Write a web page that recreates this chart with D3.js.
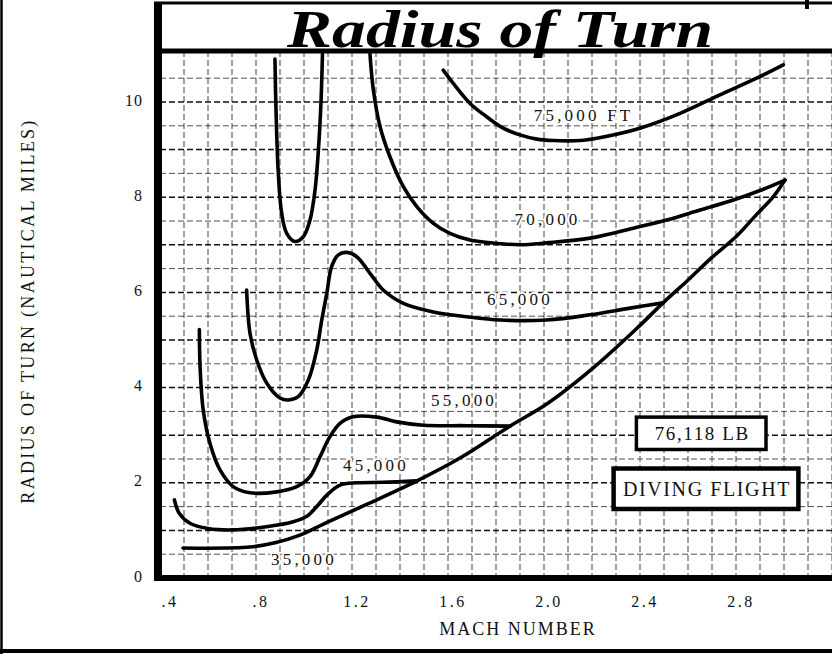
<!DOCTYPE html>
<html>
<head>
<meta charset="utf-8">
<script src="https://cdn.jsdelivr.net/npm/d3@7"></script>
<style>
  html, body { margin: 0; padding: 0; background: #fff; }
  #chart { width: 832px; height: 654px; }
</style>
</head>
<body>
<div id="chart"></div>
<script>
// Axis ticks
const machTicks = [0.4, 0.8, 1.2, 1.6, 2.0, 2.4, 2.8];
const machTickLabels = ['.4', '.8', '1.2', '1.6', '2.0', '2.4', '2.8'];
const radiusTicks = [0, 2, 4, 6, 8, 10];

// Curves: [mach, radius (n.mi.)]
const alt35000 = [[0.496, 0.63], [0.775, 0.65], [0.879, 0.74], [0.983, 0.9], [1.096, 1.17], [1.263, 1.55],
  [1.471, 2.04], [1.65, 2.52], [1.858, 3.19], [2.013, 3.66], [2.204, 4.41], [2.388, 5.25], [2.496, 5.78],
  [2.596, 6.24], [2.692, 6.7], [2.804, 7.19], [2.888, 7.65], [2.954, 8.0], [3.004, 8.36]];
const alt45000 = [[0.46, 1.64], [0.48, 1.36], [0.525, 1.15], [0.6, 1.04], [0.7, 1.01], [0.85, 1.08],
  [0.955, 1.18], [1.01, 1.29], [1.053, 1.5], [1.095, 1.74], [1.15, 1.95], [1.22, 2.0], [1.33, 2.01],
  [1.471, 2.04]];
const alt55000 = [[0.564, 5.22], [0.567, 4.44], [0.58, 3.53], [0.608, 2.83], [0.65, 2.27], [0.705, 1.92],
  [0.775, 1.79], [0.886, 1.81], [0.97, 1.92], [1.025, 2.13], [1.067, 2.55], [1.108, 2.97], [1.15, 3.25],
  [1.205, 3.39], [1.303, 3.38], [1.386, 3.28], [1.497, 3.21], [1.678, 3.2], [1.858, 3.19]];
const alt65000 = [[0.761, 6.05], [0.775, 5.14], [0.803, 4.58], [0.845, 4.09], [0.9, 3.78], [0.935, 3.74],
  [0.976, 3.81], [1.018, 4.16], [1.053, 4.79], [1.074, 5.42], [1.095, 5.98], [1.115, 6.54], [1.143, 6.79],
  [1.178, 6.84], [1.22, 6.75], [1.275, 6.4], [1.33, 6.05], [1.414, 5.77], [1.539, 5.59], [1.678, 5.49],
  [1.817, 5.42], [2.011, 5.42], [2.192, 5.53], [2.358, 5.67], [2.496, 5.78]];
const alt70000Subsonic = [[0.879, 10.9], [0.883, 9.9], [0.893, 8.5], [0.907, 7.66], [0.928, 7.24],
  [0.962, 7.07], [0.997, 7.17], [1.025, 7.52], [1.046, 8.15], [1.06, 8.99], [1.07, 9.9], [1.077, 11.0]];
const alt70000 = [[1.275, 11.0], [1.289, 10.25], [1.317, 9.48], [1.358, 8.85], [1.414, 8.22], [1.47, 7.8],
  [1.539, 7.45], [1.608, 7.24], [1.692, 7.1], [1.803, 7.03], [1.9, 7.0], [2.011, 7.04], [2.192, 7.14],
  [2.372, 7.35], [2.511, 7.52], [2.65, 7.73], [2.789, 7.94], [2.9, 8.14], [3.004, 8.36]];
const alt75000 = [[1.58, 10.67], [1.622, 10.39], [1.692, 9.97], [1.761, 9.69], [1.83, 9.45], [1.9, 9.31],
  [1.97, 9.22], [2.039, 9.19], [2.15, 9.19], [2.22, 9.24], [2.4, 9.45], [2.567, 9.76], [2.733, 10.15],
  [2.886, 10.5], [2.997, 10.78]];

const curves = [alt35000, alt45000, alt55000, alt65000, alt70000Subsonic, alt70000, alt75000];
const curveLabels = ['35,000', '45,000', '55,000', '65,000', '70,000', '75,000 FT'];

const W = 832, H = 654;
const plot = { left: 160, right: 832, top: 51, bottom: 578 };
const serif = "'Liberation Serif', 'Times New Roman', serif";

const x = d3.scaleLinear().domain([0.4, 3.2]).range([plot.left, plot.right]);
const y = d3.scaleLinear().domain([0, 10]).range([plot.bottom, 102]);

const svg = d3.select('#chart').append('svg')
  .attr('width', W)
  .attr('height', H)
  .style('font-family', serif);

svg.append('rect').attr('width', W).attr('height', H).attr('fill', '#fff');

// Graph paper grid
const grid = svg.append('g').attr('stroke-dasharray', '6,3');
d3.range(5, 33).map(i => i / 10).forEach(m => {
  grid.append('line')
    .attr('x1', x(m)).attr('x2', x(m))
    .attr('y1', plot.top).attr('y2', plot.bottom)
    .attr('stroke', '#222')
    .attr('stroke-width', 0.85);
});
d3.range(1, 22).map(i => i / 2).forEach(v => {
  grid.append('line')
    .attr('x1', plot.left).attr('x2', plot.right)
    .attr('y1', y(v)).attr('y2', y(v))
    .attr('stroke', Number.isInteger(v) ? '#111' : '#333')
    .attr('stroke-width', Number.isInteger(v) ? 1.5 : 0.85);
});

// Curves
const line = d3.line()
  .x(d => x(d[0]))
  .y(d => y(d[1]))
  .curve(d3.curveCatmullRom.alpha(0.5));

svg.append('g').selectAll('path')
  .data(curves)
  .join('path')
  .attr('d', line)
  .attr('fill', 'none')
  .attr('stroke', '#000')
  .attr('stroke-width', 3.6)
  .attr('stroke-linecap', 'round')
  .attr('stroke-linejoin', 'round');

// Altitude labels
const labelAt = [[1.0, 0.27], [1.3, 2.25], [1.667, 3.61], [1.9, 5.74], [2.015, 7.42], [2.165, 9.6]];
svg.append('g').selectAll('text')
  .data(curveLabels)
  .join('text')
  .attr('x', (d, i) => x(labelAt[i][0]))
  .attr('y', (d, i) => y(labelAt[i][1]))
  .attr('text-anchor', 'middle')
  .style('font-size', '17px')
  .style('letter-spacing', '3.2px')
  .style('paint-order', 'stroke')
  .attr('stroke', '#fff')
  .attr('stroke-width', 4)
  .attr('fill', '#111')
  .text(d => d);

// Boxed notes
function note(text, m0, m1, v0, v1, size, border) {
  svg.append('rect')
    .attr('x', x(m0)).attr('y', y(v0))
    .attr('width', x(m1) - x(m0)).attr('height', y(v1) - y(v0))
    .attr('fill', '#fff').attr('stroke', '#000').attr('stroke-width', border);
  svg.append('text')
    .attr('x', (x(m0) + x(m1)) / 2 + 1)
    .attr('y', (y(v0) + y(v1)) / 2)
    .attr('dy', '0.35em')
    .attr('text-anchor', 'middle')
    .style('font-size', size + 'px')
    .style('letter-spacing', '1.6px')
    .attr('fill', '#111')
    .text(text);
}
note('76,118 LB', 2.385, 2.925, 3.38, 2.7, 19, 3.5);
note('DIVING FLIGHT', 2.29, 3.06, 2.3, 1.45, 20, 4.5);

// Frame
const frame = svg.append('g').attr('stroke', '#000');
frame.append('line').attr('x1', 158).attr('x2', 158).attr('y1', 2).attr('y2', 581).attr('stroke-width', 8);
frame.append('line').attr('x1', 154).attr('x2', W).attr('y1', plot.top).attr('y2', plot.top).attr('stroke-width', 5);
frame.append('line').attr('x1', 154).attr('x2', W).attr('y1', plot.bottom).attr('y2', plot.bottom).attr('stroke-width', 6);
frame.append('line').attr('x1', 154).attr('x2', W).attr('y1', 3).attr('y2', 3).attr('stroke-width', 3);
frame.append('line').attr('x1', 807).attr('x2', 807).attr('y1', 0).attr('y2', 9).attr('stroke-width', 4);
frame.append('line').attr('x1', 1.5).attr('x2', 1.5).attr('y1', 0).attr('y2', H).attr('stroke-width', 2.5);
frame.append('line').attr('x1', 0).attr('x2', W).attr('y1', 651).attr('y2', 651).attr('stroke-width', 4);

// Title
svg.append('text')
  .attr('x', 287)
  .attr('y', 47)
  .attr('textLength', 426)
  .attr('lengthAdjust', 'spacingAndGlyphs')
  .style('font-size', '52px')
  .style('font-weight', 'bold')
  .style('font-style', 'italic')
  .attr('fill', '#000')
  .text('Radius of Turn');

// Y ticks
svg.append('g').selectAll('text')
  .data(radiusTicks)
  .join('text')
  .attr('x', 143)
  .attr('y', d => y(d) - 2)
  .attr('dy', '0.35em')
  .attr('text-anchor', 'end')
  .style('font-size', '16px')
  .style('letter-spacing', '1px')
  .attr('fill', '#111')
  .text(d => d);

// X ticks
svg.append('g').selectAll('text')
  .data(machTicks)
  .join('text')
  .attr('x', (d, i) => x(d) + (i === 0 ? 10 : 5))
  .attr('y', 607)
  .attr('text-anchor', 'middle')
  .style('font-size', '16px')
  .style('letter-spacing', '2.5px')
  .attr('fill', '#111')
  .text((d, i) => machTickLabels[i]);

// Axis titles
svg.append('text')
  .attr('x', 518)
  .attr('y', 635)
  .attr('text-anchor', 'middle')
  .style('font-size', '18px')
  .style('letter-spacing', '2px')
  .attr('fill', '#111')
  .text('MACH NUMBER');

svg.append('text')
  .attr('transform', 'translate(34,311) rotate(-90)')
  .attr('text-anchor', 'middle')
  .style('font-size', '18px')
  .style('letter-spacing', '2.3px')
  .attr('fill', '#111')
  .text('RADIUS OF TURN (NAUTICAL MILES)');
</script>
</body>
</html>
